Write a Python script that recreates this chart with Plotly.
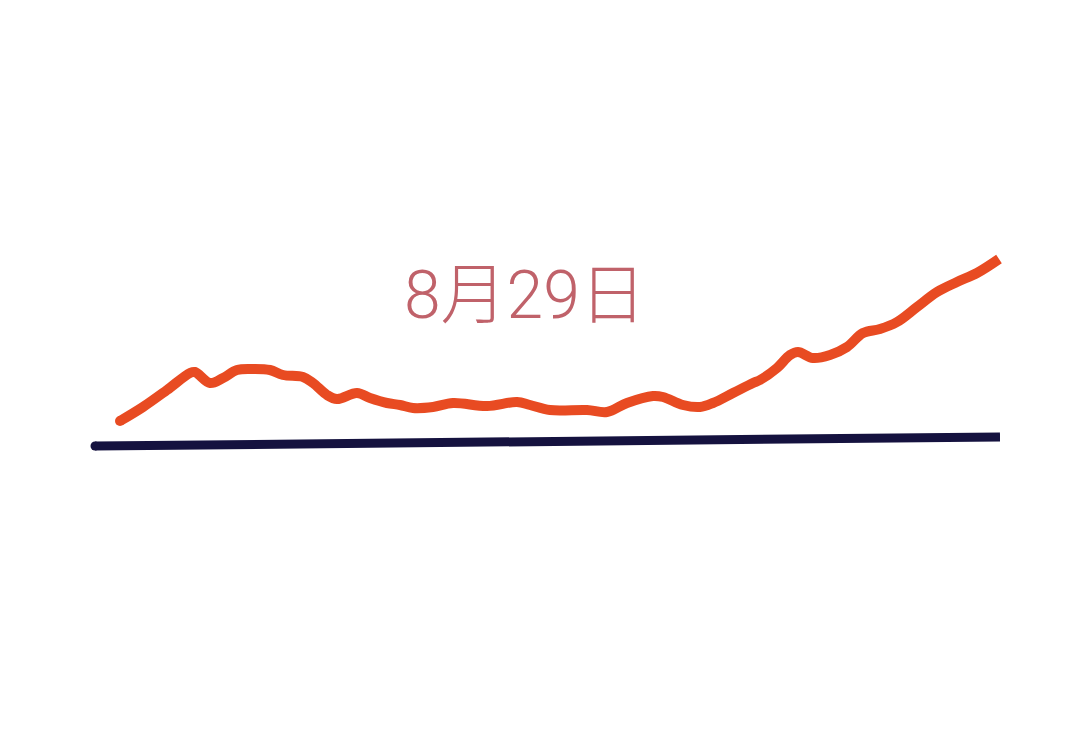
import plotly.graph_objects as go

# hand-drawn trend line (x position, level)
trend_x = [120, 143, 167, 190, 195, 210, 223, 237, 253, 270, 283, 303, 313, 327, 337, 357, 370,
           387, 400, 413, 433, 453, 487, 517, 530, 550, 587, 607, 627, 653, 663, 683, 700, 713,
           733, 753, 760, 777, 790, 798, 813, 830, 847, 863, 880, 897, 917, 937, 957, 977, 999]
trend_y = [315, 329, 346, 363, 364, 353, 358, 366, 367, 366, 361, 359, 353, 341, 337, 343, 338,
           333, 331, 328, 329, 333, 330, 334, 331, 326, 326, 324, 333, 340, 339, 331, 329, 333,
           343, 353, 356, 368, 381, 384, 378, 381, 389, 403, 407, 414, 429, 444, 454, 463, 477]

# baseline
base_x = [95, 1000]
base_y = [290, 299]

label = "8月29日"

fig = go.Figure()
fig.add_trace(go.Scatter(x=base_x, y=base_y, mode="lines",
                         line=dict(color="#15123F", width=9)))
fig.add_trace(go.Scatter(x=base_x[:1], y=base_y[:1], mode="markers",
                         marker=dict(color="#15123F", size=9)))
fig.add_trace(go.Scatter(x=trend_x, y=trend_y, mode="lines",
                         line=dict(color="#E84B22", width=10, shape="spline", smoothing=1.0)))
fig.add_trace(go.Scatter(x=trend_x[:1], y=trend_y[:1], mode="markers",
                         marker=dict(color="#E84B22", size=10)))

fig.add_annotation(x=525, y=441, text=label, showarrow=False,
                   font=dict(family="Roboto, Noto Sans CJK SC", size=66, weight=300,
                             color="#C0626A"))

fig.update_layout(
    width=1080, height=736,
    margin=dict(l=0, r=0, t=0, b=0),
    paper_bgcolor="white", plot_bgcolor="white",
    showlegend=False,
    xaxis=dict(range=[0, 1080], visible=False, fixedrange=True),
    yaxis=dict(range=[0, 736], visible=False, fixedrange=True),
)

fig.write_html("out.html", config={"displayModeBar": False},
               post_script="document.body.style.margin='0px';")
